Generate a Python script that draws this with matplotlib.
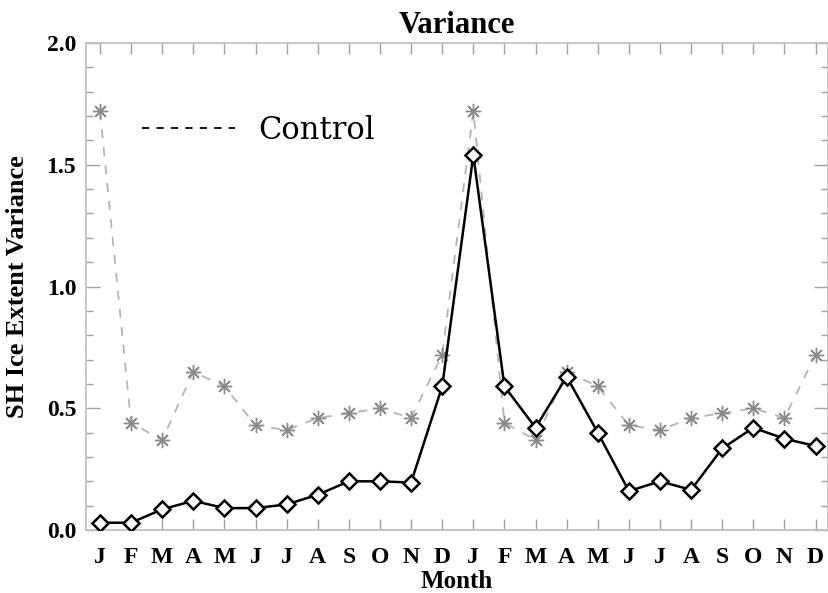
import matplotlib
matplotlib.use("Agg")
import matplotlib.pyplot as plt
from matplotlib.lines import Line2D

# month labels, two years
months = ["J", "F", "M", "A", "M", "J", "J", "A", "S", "O", "N", "D"] * 2

# control run variance (grey dashed, asterisks)
control = [1.72, 0.44, 0.37, 0.65, 0.59, 0.43, 0.41, 0.46, 0.48, 0.50, 0.46, 0.72,
           1.72, 0.44, 0.37, 0.65, 0.59, 0.43, 0.41, 0.46, 0.48, 0.50, 0.46, 0.72]

# experiment variance (black solid, diamonds)
experiment = [0.03, 0.03, 0.085, 0.12, 0.09, 0.09, 0.105, 0.145, 0.20, 0.20, 0.195, 0.59,
              1.54, 0.59, 0.42, 0.63, 0.40, 0.16, 0.20, 0.165, 0.335, 0.42, 0.375, 0.345]

serif = ["Liberation Serif", "DejaVu Serif"]
grey = "#a0a0a0"

fig = plt.figure(figsize=(8.29, 5.93), dpi=100)
ax = fig.add_axes([0.1037, 0.1062, 0.8951, 0.8213])

x = list(range(len(months)))
ax.plot(x, control, color="#b4b4b4", lw=1.3, ls=(0, (5, 5)),
        marker=(8, 2, 0), ms=11, mec="#8a8a8a", mew=1.0, zorder=2)
ax.plot(x, experiment, color="black", lw=1.8, marker="D", ms=8,
        mfc="white", mec="black", mew=1.8, zorder=3)

ax.set_xlim(-0.45, 23.4)
ax.set_ylim(0, 2.0)
ax.set_xticks(x)
ax.set_xticklabels(months)
ax.set_yticks([0.0, 0.5, 1.0, 1.5, 2.0])
ax.set_yticklabels(["0.0", "0.5", "1.0", "1.5", "2.0"])
ax.set_yticks([i / 10 for i in range(21)], minor=True)

for lab in ax.get_xticklabels() + ax.get_yticklabels():
    lab.set_fontfamily(serif)
    lab.set_fontweight("bold")
for lab in ax.get_xticklabels():
    lab.set_fontsize(17)
for lab in ax.get_yticklabels():
    lab.set_fontsize(17)

ax.tick_params(axis="both", which="both", direction="in", top=True, right=True,
               color=grey, width=1.0)
ax.tick_params(axis="x", which="major", length=8, pad=12)
ax.tick_params(axis="y", which="major", length=10, pad=7)
ax.tick_params(axis="y", which="minor", length=5)
for s in ax.spines.values():
    s.set_color("#c0c0c0")
    s.set_linewidth(1.3)

ax.set_title("Variance", fontfamily=serif, fontweight="bold", fontsize=22, pad=7)
ax.set_xlabel("Month", fontfamily=serif, fontweight="bold", fontsize=18, labelpad=2)
ax.set_ylabel("SH Ice Extent Variance", fontfamily=serif, fontweight="bold",
              fontsize=19, labelpad=13)

handle = Line2D([], [], color="black", lw=1.3, ls=(0, (4, 4)))
ax.legend([handle], ["Control"], loc="center left", bbox_to_anchor=(0.0755, 0.821),
          frameon=False, borderpad=0, borderaxespad=0, handlelength=3.05,
          handletextpad=0.75, prop={"family": "DejaVu Serif", "size": 22})

fig.savefig("out.png", dpi=100)
